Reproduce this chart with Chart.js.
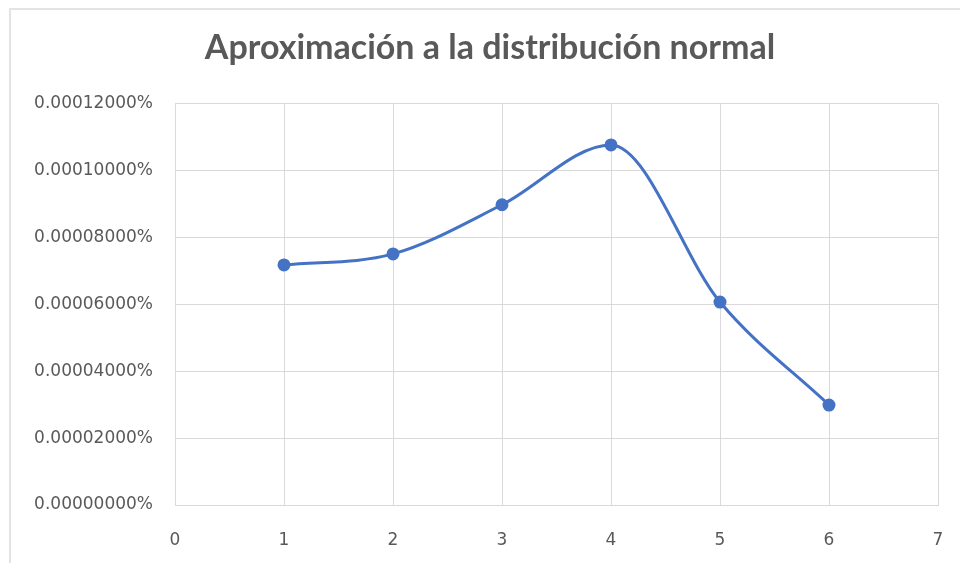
<!DOCTYPE html>
<html>
<head>
<meta charset="utf-8">
<script src="https://cdn.jsdelivr.net/npm/chart.js@4.4.0/dist/chart.umd.min.js"></script>
<style>
    html, body { margin: 0; padding: 0; background: #fff; overflow: hidden; }
    #wrap { position: relative; width: 960px; height: 563px; }
    #frame {
        position: absolute; left: 9px; top: 8px; width: 1000px; height: 600px;
        border-left: 2px solid #e3e3e3; border-top: 2px solid #e3e3e3;
        pointer-events: none;
    }
    canvas { position: absolute; left: 0; top: 0; }
</style>
</head>
<body>
<div id="wrap">
    <div id="frame"></div>
    <canvas id="chart" width="960" height="563"></canvas>
</div>
<script>
// values (y in percent)
const xValues = [1, 2, 3, 4, 5, 6];
const yValues = [0.0000718, 0.0000751, 0.0000898, 0.0001077, 0.0000607, 0.0000299];
const chartTitle = 'Aproximación a la distribución normal';

const gridColor = '#d9d9d9';
const textColor = '#595959';
const lineColor = '#4472c4';

const points = xValues.map((x, i) => ({ x: x, y: yValues[i] }));

const ctx = document.getElementById('chart').getContext('2d');

new Chart(ctx, {
    type: 'scatter',
    data: {
        datasets: [{
            label: 'serie',
            data: points,
            showLine: true,
            borderColor: lineColor,
            backgroundColor: lineColor,
            borderWidth: 3,
            cubicInterpolationMode: 'monotone',
            pointRadius: 5,
            pointHoverRadius: 5,
            fill: false
        }]
    },
    options: {
        responsive: false,
        animation: false,
        layout: {
            padding: { left: 20, right: 0, top: 0, bottom: 0 }
        },
        plugins: {
            legend: { display: false },
            tooltip: { enabled: false },
            title: {
                display: true,
                text: chartTitle,
                color: textColor,
                font: { family: 'Lato', size: 34, weight: 'bold' },
                padding: { top: 28, bottom: 35 }
            }
        },
        scales: {
            x: {
                type: 'linear',
                min: 0,
                max: 7,
                ticks: {
                    stepSize: 1,
                    color: textColor,
                    padding: 0,
                    font: { family: 'DejaVu Sans', size: 17 }
                },
                // transparent tick marks only push the labels down
                grid: { color: gridColor, drawTicks: true, tickLength: 25, tickColor: 'rgba(0,0,0,0)' },
                border: { color: gridColor },
                afterFit: (scale) => { scale.height = 58; }
            },
            y: {
                min: 0,
                max: 0.00012,
                ticks: {
                    stepSize: 0.00002,
                    color: textColor,
                    padding: 0,
                    font: { family: 'DejaVu Sans', size: 17 },
                    callback: (value) => value.toFixed(8) + '%'
                },
                grid: { color: gridColor, drawTicks: true, tickLength: 22, tickColor: 'rgba(0,0,0,0)' },
                border: { color: gridColor },
                afterFit: (scale) => { scale.width = 155; }
            },
            // empty right-hand box so the plot ends before the canvas edge
            // while the title stays centred on the whole frame
            yRight: {
                position: 'right',
                min: 0,
                max: 0.00012,
                ticks: { display: false },
                grid: { display: false },
                border: { display: false },
                afterFit: (scale) => { scale.width = 22; }
            }
        }
    }
});
</script>
</body>
</html>
